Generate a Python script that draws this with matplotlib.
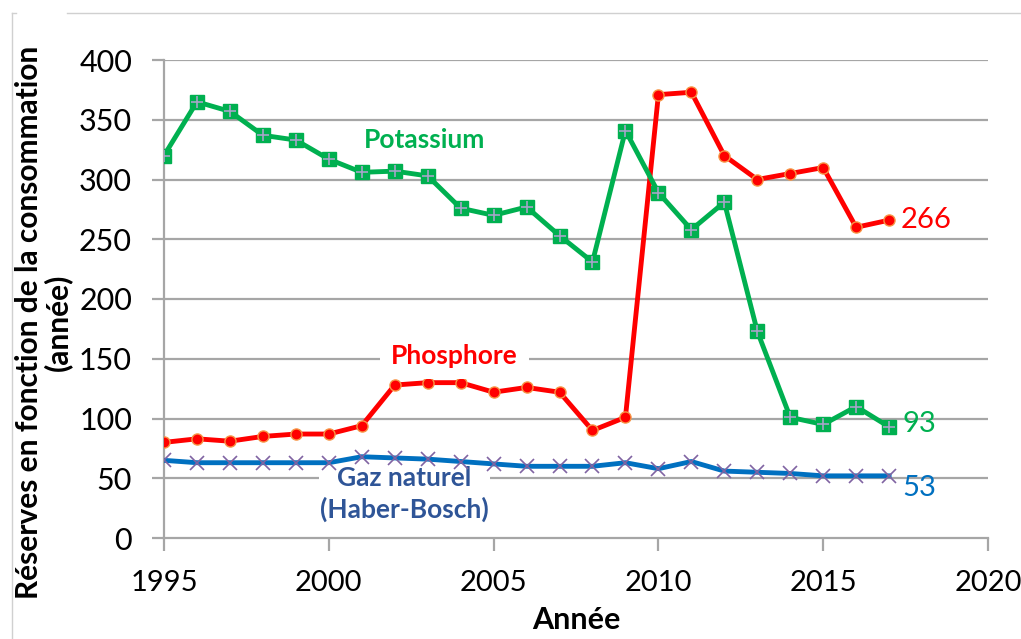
import matplotlib
matplotlib.use("Agg")
import matplotlib.pyplot as plt
from matplotlib.lines import Line2D

plt.rcParams['font.family'] = ['Lato', 'DejaVu Sans']

years = list(range(1995, 2018))

potassium = [320, 365, 357, 337, 333, 317, 306, 307, 303, 276, 270, 277,
             253, 231, 341, 289, 258, 281, 173, 101, 95, 110, 93]
phosphore = [80, 83, 81, 85, 87, 87, 94, 128, 130, 130, 122, 126,
             122, 90, 101, 371, 373, 320, 300, 305, 310, 260, 266]
gaz = [65, 63, 63, 63, 63, 63, 68, 67, 66, 64, 62, 60,
       60, 60, 63, 58, 64, 56, 55, 54, 52, 52, 52]

GREEN = '#00b050'
RED = '#ff0000'
BLUE = '#0070c0'
DARKBLUE = '#2f5597'

fig = plt.figure(figsize=(10.21, 6.39), dpi=100)
ax = fig.add_axes([164 / 1021, 101 / 639, 824 / 1021, 478 / 639])

# grid lines first
for v in range(50, 401, 50):
    ax.axhline(v, color='#a6a6a6', lw=1.6, zorder=0)

# gas (blue line, purple x markers)
ax.plot(years, gaz, color=BLUE, lw=3.5, zorder=2)
ax.plot(years, gaz, ls='none', marker='x', ms=10, mew=1.2, color='#8064a2', zorder=3)

# phosphore
ax.plot(years, phosphore, color=RED, lw=3.5, marker='o', ms=8,
        mfc=RED, mec='#f79646', mew=1, zorder=4)

# potassium
ax.plot(years, potassium, color=GREEN, lw=3.5, marker='s', ms=9.5,
        mfc=GREEN, mec=GREEN, zorder=5)
ax.plot(years, potassium, ls='none', marker='+', ms=8, mew=1.2,
        color='#a5a5c8', zorder=6)

ax.set_xlim(1995, 2020)
ax.set_ylim(0, 400)
ax.set_xticks(range(1995, 2021, 5))
ax.set_yticks(range(0, 401, 50))
ax.tick_params(axis='both', color='#a6a6a6', width=1.6, length=9)
ax.tick_params(axis='x', labelsize=21, pad=14)
ax.tick_params(axis='y', labelsize=22, pad=14)
for s in ['top', 'right']:
    ax.spines[s].set_visible(False)
for s in ['left', 'bottom']:
    ax.spines[s].set_color('#a6a6a6')
    ax.spines[s].set_linewidth(1.6)
ax.spines['left'].set_zorder(1)

ax.set_xlabel('Année', fontsize=22, fontweight='bold', labelpad=7)
ax.set_ylabel('Réserves en fonction de la consommation\n(année)',
              fontsize=21.5, fontweight='bold', linespacing=1.0)
ax.yaxis.set_label_coords(-0.112, 0.452)

# series labels
ax.text(2002.9, 333, 'Potassium', color=GREEN, fontsize=19, fontweight='bold',
        ha='center', va='center', bbox=dict(fc='white', ec='none', pad=2), zorder=7)
ax.text(2003.8, 152, 'Phosphore', color=RED, fontsize=19, fontweight='bold',
        ha='center', va='center', bbox=dict(fc='white', ec='none', pad=8), zorder=7)
ax.text(2002.3, 37, 'Gaz naturel\n(Haber-Bosch)', color=DARKBLUE, fontsize=19,
        fontweight='bold', ha='center', va='center', linespacing=1.3,
        bbox=dict(fc='white', ec='none', pad=1), zorder=1.5)

# end values
ax.text(2017.35, phosphore[-1], str(phosphore[-1]), color=RED, fontsize=21,
        va='center', ha='left')
ax.text(2017.4, potassium[-1] + 2, str(potassium[-1]), color=GREEN, fontsize=21,
        va='center', ha='left')
ax.text(2017.4, 42, '53', color=BLUE, fontsize=21, va='center', ha='left')

# faint outer frame
fig.add_artist(Line2D([67 / 1021, 1], [1 - 13 / 639] * 2, color='#d0d0d0', lw=1))
fig.add_artist(Line2D([12 / 1021, 12 / 1021], [0, 1 - 13 / 639], color='#d0d0d0', lw=1))
fig.add_artist(Line2D([12 / 1021, 16 / 1021], [1 - 13 / 639] * 2, color='#d0d0d0', lw=1))

fig.savefig('out.png', dpi=100)
